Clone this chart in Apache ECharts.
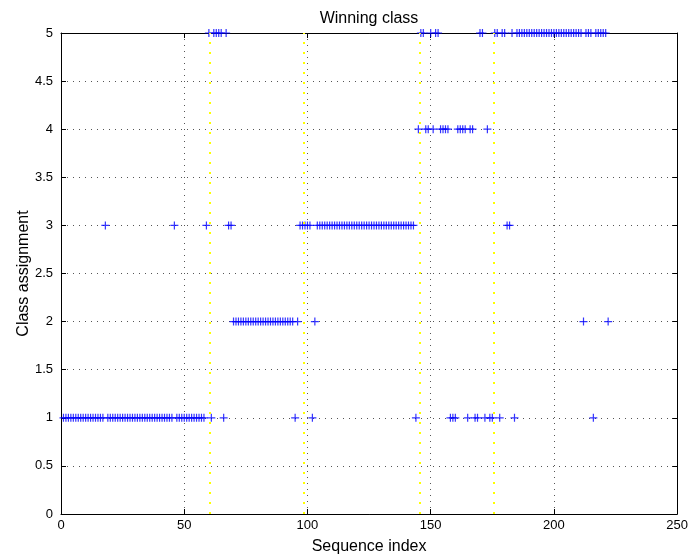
<!DOCTYPE html>
<html>
<head>
<meta charset="utf-8">
<script src="https://cdn.jsdelivr.net/npm/echarts@6/dist/echarts.min.js"></script>
<style>
html,body{margin:0;padding:0;background:#fff;}
#chart{width:691px;height:560px;}
</style>
</head>
<body>
<div id="chart"></div>
<script>
// Winning class per sequence index (index 1 .. 222)
const winningClass = [
  1,1,1,1,1,1,1,1,1,1, 1,1,1,1,1,1,1,3,1,1,   // 1-20
  1,1,1,1,1,1,1,1,1,1, 1,1,1,1,1,1,1,1,1,1,   // 21-40
  1,1,1,1,1,3,1,1,1,1, 1,1,1,1,1,1,1,1,3,5,   // 41-60
  1,5,5,5,5,1,5,3,3,2, 2,2,2,2,2,2,2,2,2,2,   // 61-80
  2,2,2,2,2,2,2,2,2,2, 2,2,2,2,1,2,3,3,3,3,   // 81-100
  3,1,2,3,3,3,3,3,3,3, 3,3,3,3,3,3,3,3,3,3,   // 101-120
  3,3,3,3,3,3,3,3,3,3, 3,3,3,3,3,3,3,3,3,3,   // 121-140
  3,3,3,1,4,5,5,4,4,5, 4,5,5,4,4,4,4,1,1,1,   // 141-160
  4,4,4,4,1,4,4,1,1,5, 5,1,4,1,1,5,5,1,5,5,   // 161-180
  3,3,5,1,5,5,5,5,5,5, 5,5,5,5,5,5,5,5,5,5,   // 181-200
  5,5,5,5,5,5,5,5,5,5, 5,2,5,5,5,1,5,5,5,5,   // 201-220
  5,2                                         // 221-222
];
// True class boundaries (yellow dotted lines)
const boundaries = [60.5, 98.5, 145.5, 175.5];
const xRange = [0, 250];
const xStep = 50;
const yRange = [0, 5];
const yStep = 0.5;
const titleText = 'Winning class';
const xName = 'Sequence index';
const yName = 'Class assignment';

const points = winningClass.map((c, i) => [i + 1, c]);

const FONT = '"Liberation Sans", Arial, Helvetica, sans-serif';
const chart = echarts.init(document.getElementById('chart'), null, {renderer: 'canvas'});

const gridLine = {show: true, lineStyle: {color: '#555', width: 1, type: [1, 5]}};
const axisLineStyle = {show: true, onZero: false, lineStyle: {color: '#000', width: 1}};
const tick = {show: true, inside: true, length: 5, lineStyle: {color: '#000'}};

const plus = 'path://M0,5L10,5M5,0L5,10';

chart.setOption({
  animation: false,
  backgroundColor: '#fff',
  textStyle: {fontFamily: FONT},
  graphic: [{
    type: 'text',
    x: 369, y: 19,
    style: {
      text: titleText,
      font: '16px ' + FONT,
      fill: '#000',
      textAlign: 'center', textVerticalAlign: 'middle',
      align: 'center', verticalAlign: 'middle'
    }
  }],
  grid: {left: 61, right: 8, top: 33, bottom: 39, containLabel: false},
  xAxis: [{
    type: 'value', min: xRange[0], max: xRange[1], interval: xStep,
    position: 'bottom',
    name: xName, nameLocation: 'middle', nameGap: 25, nameMoveOverlap: false,
    nameTextStyle: {fontFamily: FONT, fontSize: 16, color: '#000'},
    axisLine: axisLineStyle, axisTick: tick,
    axisLabel: {color: '#000', fontSize: 13, fontFamily: FONT, margin: 5},
    splitLine: gridLine
  }, {
    type: 'value', min: xRange[0], max: xRange[1], interval: xStep,
    position: 'top',
    axisLine: axisLineStyle, axisTick: tick,
    axisLabel: {show: false}, splitLine: {show: false}
  }],
  yAxis: [{
    type: 'value', min: yRange[0], max: yRange[1], interval: yStep,
    position: 'left',
    name: yName, nameLocation: 'middle', nameGap: 29, nameMoveOverlap: false,
    nameTextStyle: {fontFamily: FONT, fontSize: 16, color: '#000'},
    axisLine: axisLineStyle, axisTick: tick,
    axisLabel: {color: '#000', fontSize: 13, fontFamily: FONT, margin: 8},
    splitLine: gridLine
  }, {
    type: 'value', min: yRange[0], max: yRange[1], interval: yStep,
    position: 'right',
    axisLine: axisLineStyle, axisTick: tick,
    axisLabel: {show: false}, splitLine: {show: false}
  }],
  series: [{
    type: 'scatter',
    xAxisIndex: 0, yAxisIndex: 0,
    data: points,
    symbol: plus,
    symbolSize: 8,
    itemStyle: {color: 'rgba(0,0,0,0)', borderColor: '#0000ff', borderWidth: 1.2},
    markLine: {
      silent: true,
      symbol: ['none', 'none'],
      label: {show: false},
      lineStyle: {color: '#ffff00', width: 2, type: [2, 8]},
      data: boundaries.map(b => ({xAxis: b}))
    },
    z: 3
  }]
});
</script>
</body>
</html>
